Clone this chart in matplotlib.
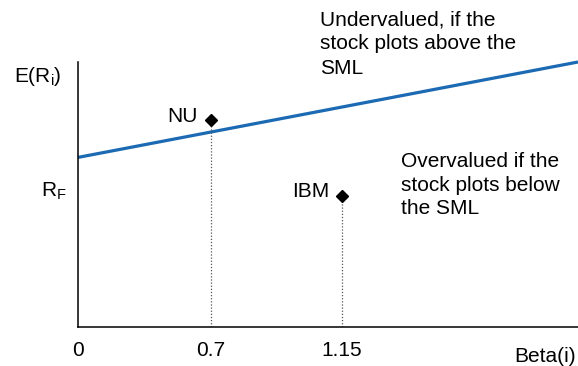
import numpy as np
from matplotlib import pyplot as plt

plt.rcParams['font.family'] = ['Liberation Sans', 'DejaVu Sans']
plt.rcParams['mathtext.default'] = 'regular'

# schematic SML data (beta, expected return in %)
sml_beta = [0.0, 1.82]
sml_ret = [6.4, 10.0]
stock_names = ['NU', 'IBM']
stock_beta = [0.7, 1.15]
stock_ret = [7.8, 4.95]
xtick_vals = [0.0, 0.7, 1.15]
xtick_labels = ['0', '0.7', '1.15']
rf_tick = 5.2
er_tick = 9.45

# the original drawing is not to scale on beta, a power scale mimics it
_P = 1.39


def fwd(b):
    return np.sign(b) * np.abs(b) ** _P


def inv(v):
    return np.sign(v) * np.abs(v) ** (1 / _P)


FS = 15

fig = plt.figure(figsize=(5.78, 3.66), dpi=100)
ax = fig.add_axes([0.135, 0.1066, 0.865, 0.724])
ax.set_xscale('function', functions=(fwd, inv))
ax.set_xlim(0, 1.82)
ax.set_ylim(0, 10.0)

# SML
ax.plot(sml_beta, sml_ret, color='#1b6ab3', lw=2.3, solid_capstyle='butt', clip_on=False)

# stocks with dotted drop lines
for name, b, r in zip(stock_names, stock_beta, stock_ret):
    ax.plot([b, b], [0, r], color='#555555', lw=0.9, ls=(0, (1, 1.5)))
    ax.plot(b, r, marker='D', color='black', markersize=5.8, ls='none', zorder=5)
    ax.annotate(name, (b, r), xytext=(-9, 3), textcoords='offset points',
                ha='right', va='center', fontsize=FS)

ax.text(0.484, 1.196, 'Undervalued, if the\nstock plots above the\nSML', transform=ax.transAxes,
        ha='left', va='top', fontsize=FS, linespacing=1.35)
ax.text(0.645, 0.66, 'Overvalued if the\nstock plots below\nthe SML', transform=ax.transAxes,
        ha='left', va='top', fontsize=FS, linespacing=1.3)

ax.set_xticks(xtick_vals)
ax.set_xticklabels(xtick_labels, fontsize=FS)
ax.set_yticks([rf_tick])
ax.set_yticklabels(['$R_F$'], fontsize=FS)
ax.tick_params(axis='both', length=0)
ax.tick_params(axis='x', pad=10)
ax.tick_params(axis='y', pad=8)

ax.text(-0.032, er_tick, '$E(R_i)$', transform=ax.get_yaxis_transform(),
        ha='right', va='center', fontsize=FS)
ax.text(0.995, -0.075, 'Beta(i)', transform=ax.transAxes, ha='right', va='top', fontsize=FS)

for s in ['top', 'right']:
    ax.spines[s].set_visible(False)
for s in ['left', 'bottom']:
    ax.spines[s].set_linewidth(1.1)

plt.savefig('out.png', dpi=100)
